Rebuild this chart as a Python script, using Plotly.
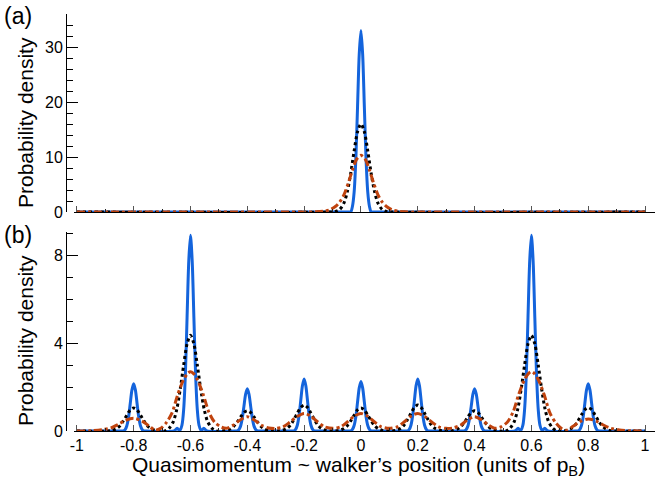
import plotly.graph_objects as go

# ---------------- data ----------------
# Panel (a): single peak at 0
blue_a_x = [-1.0, -0.045, -0.036, -0.030, -0.024, -0.018, -0.012, -0.006, 0.0,
            0.006, 0.012, 0.018, 0.024, 0.030, 0.036, 0.045, 1.0]
blue_a_y = [0, 0, 0, 1.0, 3.6, 9.6, 19.1, 28.7, 33.0,
            28.7, 19.1, 9.6, 3.6, 1.0, 0, 0, 0]

black_a_x = [-1.0, -0.11, -0.09, -0.075, -0.06, -0.048, -0.036, -0.024, -0.012, 0.0,
             0.012, 0.024, 0.036, 0.048, 0.06, 0.075, 0.09, 0.11, 1.0]
black_a_y = [0, 0, 0.1, 0.45, 1.6, 3.7, 7.0, 11.1, 14.6, 16.0,
             14.6, 11.1, 7.0, 3.7, 1.6, 0.45, 0.1, 0, 0]

red_a_x = [-1.0, -0.2, -0.16, -0.13, -0.11, -0.09, -0.075, -0.06, -0.045, -0.03, -0.015, 0.0,
           0.015, 0.03, 0.045, 0.06, 0.075, 0.09, 0.11, 0.13, 0.16, 0.2, 1.0]
red_a_y = [0, 0, 0.03, 0.15, 0.4, 1.0, 1.8, 3.1, 5.2, 7.6, 9.6, 10.3,
           9.6, 7.6, 5.2, 3.1, 1.8, 1.0, 0.4, 0.15, 0.03, 0, 0]

# Panel (b): peaks at multiples of 0.2
blue_b_x = [-1.0,
            -0.845, -0.836, -0.830, -0.824, -0.818, -0.812, -0.806, -0.800, -0.794, -0.788, -0.782, -0.776, -0.770, -0.764, -0.755,
            -0.658, -0.647, -0.638, -0.630, -0.624, -0.618, -0.612, -0.606, -0.600, -0.594, -0.588, -0.582, -0.576, -0.570, -0.562, -0.553, -0.542,
            -0.445, -0.436, -0.430, -0.424, -0.418, -0.412, -0.406, -0.400, -0.394, -0.388, -0.382, -0.376, -0.370, -0.364, -0.355,
            -0.245, -0.236, -0.230, -0.224, -0.218, -0.212, -0.206, -0.200, -0.194, -0.188, -0.182, -0.176, -0.170, -0.164, -0.155,
            -0.045, -0.036, -0.030, -0.024, -0.018, -0.012, -0.006, 0.000, 0.006, 0.012, 0.018, 0.024, 0.030, 0.036, 0.045,
            0.155, 0.164, 0.170, 0.176, 0.182, 0.188, 0.194, 0.200, 0.206, 0.212, 0.218, 0.224, 0.230, 0.236, 0.245,
            0.355, 0.364, 0.370, 0.376, 0.382, 0.388, 0.394, 0.400, 0.406, 0.412, 0.418, 0.424, 0.430, 0.436, 0.445,
            0.542, 0.553, 0.562, 0.570, 0.576, 0.582, 0.588, 0.594, 0.600, 0.606, 0.612, 0.618, 0.624, 0.630, 0.638, 0.647, 0.658,
            0.755, 0.764, 0.770, 0.776, 0.782, 0.788, 0.794, 0.800, 0.806, 0.812, 0.818, 0.824, 0.830, 0.836, 0.845,
            1.0]
blue_b_y = [0,
            0, 0, 0.06, 0.24, 0.62, 1.25, 1.87, 2.15, 1.87, 1.25, 0.62, 0.24, 0.06, 0, 0,
            0, 0.12, 0.02, 0.27, 0.98, 2.58, 5.16, 7.74, 8.9, 7.74, 5.16, 2.58, 0.98, 0.27, 0.02, 0.12, 0,
            0, 0, 0.06, 0.21, 0.56, 1.11, 1.67, 1.92, 1.67, 1.11, 0.56, 0.21, 0.06, 0, 0,
            0, 0, 0.07, 0.26, 0.69, 1.37, 2.06, 2.37, 2.06, 1.37, 0.69, 0.26, 0.07, 0, 0,
            0, 0, 0.07, 0.25, 0.65, 1.31, 1.96, 2.25, 1.96, 1.31, 0.65, 0.25, 0.07, 0, 0,
            0, 0, 0.07, 0.26, 0.69, 1.37, 2.06, 2.37, 2.06, 1.37, 0.69, 0.26, 0.07, 0, 0,
            0, 0, 0.06, 0.21, 0.56, 1.11, 1.67, 1.92, 1.67, 1.11, 0.56, 0.21, 0.06, 0, 0,
            0, 0.12, 0.02, 0.27, 0.98, 2.58, 5.16, 7.74, 8.9, 7.74, 5.16, 2.58, 0.98, 0.27, 0.02, 0.12, 0,
            0, 0, 0.06, 0.24, 0.62, 1.25, 1.87, 2.15, 1.87, 1.25, 0.62, 0.24, 0.06, 0, 0,
            0]

black_b_x = [-1.0,
             -0.89, -0.875, -0.86, -0.848, -0.836, -0.824, -0.812, -0.8, -0.788, -0.776, -0.764, -0.752, -0.74, -0.725, -0.71,
             -0.69, -0.675, -0.66, -0.648, -0.636, -0.624, -0.612, -0.6, -0.588, -0.576, -0.564, -0.552, -0.54, -0.525, -0.51,
             -0.49, -0.475, -0.46, -0.448, -0.436, -0.424, -0.412, -0.4, -0.388, -0.376, -0.364, -0.352, -0.34, -0.325, -0.31,
             -0.29, -0.275, -0.26, -0.248, -0.236, -0.224, -0.212, -0.2, -0.188, -0.176, -0.164, -0.152, -0.14, -0.125, -0.11,
             -0.09, -0.075, -0.06, -0.048, -0.036, -0.024, -0.012, 0.0, 0.012, 0.024, 0.036, 0.048, 0.06, 0.075, 0.09,
             0.11, 0.125, 0.14, 0.152, 0.164, 0.176, 0.188, 0.2, 0.212, 0.224, 0.236, 0.248, 0.26, 0.275, 0.29,
             0.31, 0.325, 0.34, 0.352, 0.364, 0.376, 0.388, 0.4, 0.412, 0.424, 0.436, 0.448, 0.46, 0.475, 0.49,
             0.51, 0.525, 0.54, 0.552, 0.564, 0.576, 0.588, 0.6, 0.612, 0.624, 0.636, 0.648, 0.66, 0.675, 0.69,
             0.71, 0.725, 0.74, 0.752, 0.764, 0.776, 0.788, 0.8, 0.812, 0.824, 0.836, 0.848, 0.86, 0.875, 0.89,
             1.0]
black_b_y = [0,
             0, 0.03, 0.11, 0.24, 0.46, 0.72, 0.96, 1.05, 0.96, 0.72, 0.46, 0.24, 0.11, 0.03, 0,
             0, 0.13, 0.44, 1.0, 1.91, 3.0, 3.96, 4.35, 3.96, 3.0, 1.91, 1.0, 0.44, 0.13, 0,
             0, 0.03, 0.09, 0.21, 0.40, 0.63, 0.84, 0.92, 0.84, 0.63, 0.40, 0.21, 0.09, 0.03, 0,
             0, 0.04, 0.12, 0.27, 0.52, 0.81, 1.07, 1.18, 1.07, 0.81, 0.52, 0.27, 0.12, 0.04, 0,
             0, 0.03, 0.11, 0.24, 0.46, 0.72, 0.96, 1.05, 0.96, 0.72, 0.46, 0.24, 0.11, 0.03, 0,
             0, 0.04, 0.12, 0.27, 0.52, 0.81, 1.07, 1.18, 1.07, 0.81, 0.52, 0.27, 0.12, 0.04, 0,
             0, 0.03, 0.09, 0.21, 0.40, 0.63, 0.84, 0.92, 0.84, 0.63, 0.40, 0.21, 0.09, 0.03, 0,
             0, 0.13, 0.44, 1.0, 1.91, 3.0, 3.96, 4.35, 3.96, 3.0, 1.91, 1.0, 0.44, 0.13, 0,
             0, 0.03, 0.11, 0.24, 0.46, 0.73, 0.97, 1.06, 0.97, 0.73, 0.46, 0.24, 0.11, 0.03, 0,
             0]

red_b_x = [-1.0, -0.95, -0.91, -0.88, -0.855, -0.83, -0.8, -0.77, -0.745, -0.725,
           -0.705, -0.685, -0.665, -0.645, -0.625, -0.61, -0.6, -0.59, -0.575, -0.555, -0.535, -0.515, -0.49,
           -0.47, -0.45, -0.425, -0.4, -0.375, -0.35, -0.325,
           -0.3, -0.275, -0.25, -0.225, -0.2, -0.177, -0.153, -0.13,
           -0.1, -0.07, -0.047, -0.023, 0.0, 0.023, 0.047, 0.07,
           0.1, 0.13, 0.153, 0.177, 0.2, 0.225, 0.25, 0.275,
           0.3, 0.325, 0.35, 0.375, 0.4, 0.425, 0.45, 0.47,
           0.49, 0.515, 0.535, 0.555, 0.575, 0.59, 0.6, 0.61, 0.625, 0.645, 0.665, 0.685, 0.705,
           0.725, 0.745, 0.77, 0.8, 0.83, 0.855, 0.88, 0.91, 0.95, 1.0]
red_b_y = [0, 0.01, 0.06, 0.14, 0.3, 0.48, 0.58, 0.45, 0.22, 0.04,
           0.12, 0.38, 0.82, 1.65, 2.32, 2.62, 2.7, 2.62, 2.32, 1.65, 0.85, 0.4, 0.17,
           0.13, 0.26, 0.5, 0.65, 0.5, 0.26, 0.14,
           0.12, 0.18, 0.4, 0.66, 0.8, 0.68, 0.42, 0.2,
           0.12, 0.2, 0.42, 0.68, 0.8, 0.68, 0.42, 0.2,
           0.12, 0.2, 0.42, 0.68, 0.8, 0.66, 0.4, 0.18,
           0.12, 0.14, 0.26, 0.5, 0.65, 0.5, 0.26, 0.13,
           0.17, 0.4, 0.85, 1.65, 2.32, 2.62, 2.7, 2.62, 2.32, 1.65, 0.82, 0.38, 0.12,
           0.04, 0.2, 0.42, 0.55, 0.44, 0.26, 0.12, 0.05, 0.01, 0]

x_tickvals = [-1, -0.8, -0.6, -0.4, -0.2, 0, 0.2, 0.4, 0.6, 0.8, 1]
x_ticktext = ["-1", "-0.8", "-0.6", "-0.4", "-0.2", "0", "0.2", "0.4", "0.6", "0.8", "1"]
ya_tickvals = [0, 10, 20, 30]
yb_tickvals = [0, 4, 8]

for a, b in [(blue_a_x, blue_a_y), (black_a_x, black_a_y), (red_a_x, red_a_y),
             (blue_b_x, blue_b_y), (black_b_x, black_b_y), (red_b_x, red_b_y)]:
    assert len(a) == len(b), (len(a), len(b))

# ---------------- styling ----------------
BLUE = "#1464dc"
RED = "#c0430e"
FONT = "Liberation Sans, Arial, Helvetica, sans-serif"

W, H = 655, 479
ML, MR, MT, MB = 66, 0, 14, 48
PW, PH = W - ML - MR, H - MT - MB
x0 = (74 - ML) / PW
top_dom = [(431 - 212) / PH, 1.0]
bot_dom = [0.0, (431 - 232) / PH]

fig = go.Figure()

def add(x, y, color, dash, xa, ya, width=3):
    fig.add_trace(go.Scatter(x=x, y=y, mode="lines", xaxis=xa, yaxis=ya,
                             line=dict(color=color, width=width, dash=dash,
                                       shape="spline", smoothing=0.8),
                             showlegend=False, hoverinfo="skip"))

add(blue_a_x, blue_a_y, BLUE, "solid", "x", "y")
add(black_a_x, black_a_y, "black", "3px,3px", "x", "y")
add(red_a_x, red_a_y, RED, "8px,3px,3px,3px", "x", "y")
add(blue_b_x, blue_b_y, BLUE, "solid", "x2", "y2")
add(black_b_x, black_b_y, "black", "3px,3px", "x2", "y2")
add(red_b_x, red_b_y, RED, "8px,3px,3px,3px", "x2", "y2")

xcommon = dict(domain=[x0, 1.0], range=[-1.01, 1.035], showgrid=False, zeroline=False,
               showline=True, linecolor="black", linewidth=1,
               ticks="inside", ticklen=6, tickcolor="#555", tickwidth=1,
               tickvals=x_tickvals, ticktext=x_ticktext, ticklabeloverflow="allow",
               minor=dict(dtick=0.1, tick0=0, ticks="inside", ticklen=3, tickcolor="#222", tickwidth=1),
               tickfont=dict(family=FONT, size=16, color="black"))
ycommon = dict(anchor="free", position=0, showgrid=False, zeroline=False,
               showline=True, linecolor="black", linewidth=1,
               ticks="inside", ticklen=11, tickcolor="black", tickwidth=1,
               tickfont=dict(family=FONT, size=16, color="black"))

fig.update_layout(
    width=W, height=H,
    margin=dict(l=ML, r=MR, t=MT, b=MB, autoexpand=False),
    paper_bgcolor="white", plot_bgcolor="white",
    xaxis=dict(**xcommon, anchor="y", showticklabels=False),
    xaxis2=dict(**xcommon, anchor="y2", matches="x"),
    yaxis=dict(**ycommon, domain=top_dom, range=[0, 36], tickvals=ya_tickvals,
               minor=dict(dtick=2, tick0=0, ticks="inside", ticklen=6, tickcolor="black", tickwidth=1)),
    yaxis2=dict(**ycommon, domain=bot_dom, range=[0, 9.05], tickvals=yb_tickvals,
                minor=dict(dtick=1, tick0=0, ticks="inside", ticklen=6, tickcolor="black", tickwidth=1)),
)

ann_font = dict(family=FONT, size=21, color="black")
fig.add_annotation(text="Probability density", textangle=-90, xref="paper", yref="paper",
                   x=(25 - ML) / PW, y=(431 - 123) / PH, xanchor="center", yanchor="middle",
                   showarrow=False, font=ann_font)
fig.add_annotation(text="Probability density", textangle=-90, xref="paper", yref="paper",
                   x=(25 - ML) / PW, y=(431 - 341) / PH, xanchor="center", yanchor="middle",
                   showarrow=False, font=ann_font)
fig.add_annotation(text="Quasimomentum ~ walker’s position (units of p<sub>B</sub>)",
                   xref="paper", yref="paper", x=(358 - ML) / PW, y=(431 - 466) / PH,
                   xanchor="center", yanchor="middle", showarrow=False, font=ann_font)
fig.add_annotation(text="(a)", xref="paper", yref="paper", x=(2 - ML) / PW, y=1 + (MT - 1) / PH,
                   xanchor="left", yanchor="top", showarrow=False,
                   font=dict(family=FONT, size=23, color="black"))
fig.add_annotation(text="(b)", xref="paper", yref="paper", x=(2 - ML) / PW, y=(431 - 220) / PH,
                   xanchor="left", yanchor="top", showarrow=False,
                   font=dict(family=FONT, size=23, color="black"))

fig.write_html("out.html", config={"displayModeBar": False},
               post_script="document.body.style.margin='0';")
